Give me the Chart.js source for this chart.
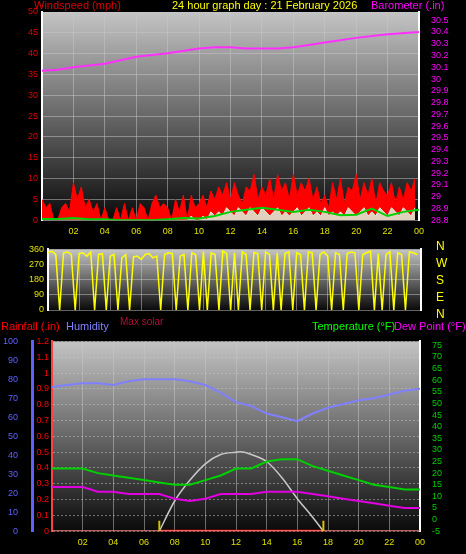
<!DOCTYPE html>
<html><head><meta charset="utf-8">
<script src="https://cdn.jsdelivr.net/npm/chart.js@4/dist/chart.umd.min.js"></script>
<style>
body{margin:0;background:#000;width:466px;height:554px;overflow:hidden;position:relative;font-family:"Liberation Sans",Arial,sans-serif}
canvas{position:absolute;left:0}
.t{position:absolute;font-size:11px;white-space:nowrap;line-height:11px}
</style></head><body>
<canvas id="c1" style="top:0" width="466" height="245"></canvas>
<canvas id="c2" style="top:240px" width="466" height="80"></canvas>
<canvas id="c3" style="top:330px" width="466" height="224"></canvas>
<div class="t" style="left:34px;top:0;color:#e00000">Windspeed (mph)</div>
<div class="t" style="left:172px;top:0;color:#ffff00">24 hour graph day : 21 February 2026</div>
<div class="t" style="left:371px;top:0;color:#ff00ff">Barometer (.in)</div>
<div class="t" style="left:436px;top:238px;color:#ffff00;line-height:17px;font-size:12px">N<br>W<br>S<br>E<br>N</div>
<div class="t" style="left:120px;top:316px;color:#b0103a;font-size:10px">Max solar</div>
<div class="t" style="left:1px;top:321px;color:#ff0000">Rainfall (.in)</div>
<div class="t" style="left:66px;top:321px;color:#8080ff">Humidity</div>
<div class="t" style="left:312px;top:321px;color:#00ff00">Temperature (°F)</div>
<div class="t" style="left:394px;top:321px;color:#ff00ff">Dew Point (°F)</div>
<script>
const hours = [0,1,2,3,4,5,6,7,8,9,10,11,12,13,14,15,16,17,18,19,20,21,22,23,24];
const windGust = [5,3,4,0,0,3,4,2, 9,5,8,3,5,2,4,0, 3,0,0,3,0,4,0,3, 0,4,3,0,4,6,3,4, 3,0,5,2,6,0,6,3, 4,6,3,7,5,8,6,9, 5,9,6,4,8,7,11,5, 8,6,10,5,11,7,9,5, 11,6,9,7,10,5,8,4, 6,3,9,5,10,4,8,7, 11,5,9,6,10,4,9,7, 6,9,4,8,5,9,7,10];
const windSpeed = [0,0,0,0,0,0,0,0, 0,0,0,0,0,0,0,0, 0,0,0,0,0,0,0,0, 0,0,0,0,0,0,0,0, 0,0,0,0,0,0,1,0, 0,1,0,2,1,2,1,3, 2,1,3,2,1,3,2,1, 3,2,1,2,3,1,2,1, 2,3,1,2,3,1,2,1, 3,1,2,1,2,1,3,2, 1,2,3,1,2,1,3,2, 1,3,2,1,3,2,1,3];
const windAvg = [0.3,0.3,0.5,0.2,0.2,0,0,0,0.2,0.5,0.4,1,2,2.5,3,2.5,2,2.5,2,1.2,1.3,2.8,1,2,2.5];
const windDir = [340,350,330,0,340,345,330,0,335,340,320,345,0,330,335,0,320,330,0,310,330,0,315,320, 300,330,335,310,320,0,330,340,335,0,320,330,0,340,330,0,345,0,340,330,0,350,335,0, 340,0,345,330,0,340,335,0,345,330,0,340,0,335,345,0,340,330,0,345,340,0,330,345, 320,0,340,330,0,335,345,340,0,330,340,350,0,335,0,330,345,0,340,330,0,345,340,330];
const baroHours = [0,1,2,4,6,8,10,11,12,13,14,15,16,17,18,20,22,24];
const baro = [30.07,30.08,30.1,30.13,30.19,30.22,30.26,30.27,30.27,30.26,30.26,30.26,30.27,30.29,30.31,30.35,30.38,30.4];
const humidity = [76,77,78,78,77,79,80,80,80,79,77,73,68,66,62,60,58,62,65,67,69,70,72,74,75];
const temperature = [22,22,22,20,19,18,17,16,15,15,17,19,22,22,25,26,26,23,21,19,17,15,14,13,13];
const dewPoint = [14,14,14,12,12,11,11,11,9,8,9,11,11,11,12,12,12,11,10,9,8,7,6,5,5];
const solarHours = [7,8,9,10,11,12,12.3,13,14,15,16,17,17.7];
const solar = [-5,8,17,24,28,29,29.2,28,25,18,9,1,-5];
const sunMarks = [7,17.7];

const q = a => a.map((v,i)=>({x:i*0.25,y:v}));
const hx = (h,a) => a.map((v,i)=>({x:h[i],y:v}));
const grid = {color:'rgba(200,200,200,0.5)',borderDash:[2,2],drawTicks:false};
const F = {family:'"Liberation Sans",Arial,sans-serif',size:9};
const bgPlugin = {id:'bg',beforeDraw(c){const a=c.chartArea,x=c.ctx;const g=x.createLinearGradient(0,a.top,0,a.bottom);g.addColorStop(0,'#c4c4c4');g.addColorStop(1,'#0a0a0a');x.save();x.fillStyle=g;x.fillRect(a.left,a.top,a.right-a.left,a.bottom-a.top);x.restore();}};
function fixW(w){return s=>{s.width=w;};}
function stepTicks(step){return s=>{const t=[];for(let v=Math.ceil(s.min/step-1e-6)*step;v<=s.max+1e-6;v+=step)t.push({value:Math.round(v*100)/100});s.ticks=t;};}
function xAxis(show){return {type:'linear',min:0,max:24,grid:grid,border:{display:false},afterBuildTicks:stepTicks(2),
  ticks:{display:show,autoSkip:false,color:'#e0e000',font:F,padding:6,callback:v=>v===0?'':String(v%24).padStart(2,'0')}};}
const common = {responsive:false,animation:false,plugins:{legend:{display:false},tooltip:{enabled:false}},elements:{point:{radius:0}}};

new Chart(document.getElementById('c1'),{type:'line',plugins:[bgPlugin],
 data:{datasets:[
  {data:hx(baroHours,baro),yAxisID:'yb',borderColor:'#ff30ff',borderWidth:2},
  {data:hx(hours,windAvg),yAxisID:'y',borderColor:'#00d000',borderWidth:2,order:0},
  {data:q(windSpeed),yAxisID:'y',borderColor:'#d8f0d8',backgroundColor:'rgba(220,245,220,0.85)',borderWidth:1,fill:'origin',order:1},
  {data:q(windGust),yAxisID:'y',borderColor:'#ff0000',backgroundColor:'#ff0000',borderWidth:1,fill:'origin',order:2}]},
 options:{...common,layout:{padding:{top:12,bottom:2}},scales:{
  x:xAxis(true),
  y:{min:0,max:50,position:'left',afterFit:fixW(42),afterBuildTicks:stepTicks(5),grid:grid,border:{color:'#fff',width:2},ticks:{autoSkip:false,color:'#e00000',font:F,padding:4}},
  yb:{min:28.8,max:30.57,position:'right',afterFit:fixW(47),afterBuildTicks:stepTicks(0.1),grid:{display:false},border:{color:'#fff',width:2},ticks:{autoSkip:false,color:'#ff00ff',font:F,padding:4,callback:v=>Math.round(v*10)/10}}}}});

new Chart(document.getElementById('c2'),{type:'line',plugins:[bgPlugin],
 data:{datasets:[{data:q(windDir),borderColor:'#ffff00',borderWidth:1.5}]},
 options:{...common,layout:{padding:{top:5,bottom:10}},scales:{
  x:{...xAxis(false),ticks:{display:false}},
  y:{min:0,max:360,afterFit:fixW(48),afterBuildTicks:stepTicks(90),grid:grid,border:{color:'#fff',width:2},ticks:{autoSkip:false,color:'#e0e000',font:F,padding:4}},
  yr:{position:'right',afterFit:fixW(45),grid:{display:false},border:{color:'#fff',width:2},ticks:{display:false}}}}});

new Chart(document.getElementById('c3'),{type:'line',plugins:[bgPlugin,{id:'sun',afterDatasetsDraw(c){const x=c.ctx,sx=c.scales.x,a=c.chartArea,yt=c.scales.yt;x.save();x.strokeStyle='#d8c000';x.lineWidth=2;sunMarks.forEach(h=>{const p=sx.getPixelForValue(h);x.beginPath();x.moveTo(p,a.bottom);x.lineTo(p,yt.getPixelForValue(-0.5));x.stroke();});x.restore();}}],
 data:{datasets:[
  {data:hx(hours,humidity),yAxisID:'yh',borderColor:'#8080ff',borderWidth:2},
  {data:hx(hours,temperature),yAxisID:'yt',borderColor:'#00d000',borderWidth:2},
  {data:hx(hours,dewPoint),yAxisID:'yt',borderColor:'#e000e0',borderWidth:2},
  {data:hx(solarHours,solar),yAxisID:'yt',borderColor:'#c8c8c8',borderWidth:1.5,cubicInterpolationMode:'monotone'},
  {data:[{x:0,y:0},{x:24,y:0}],yAxisID:'yr',borderColor:'#f08080',borderWidth:2},
  {data:hx(sunMarks,[0,0]),yAxisID:'yr',borderColor:'#ff0000',borderWidth:3}]},
 options:{...common,layout:{padding:{top:10,bottom:0}},scales:{
  x:xAxis(true),
  yr:{min:0,max:1.2,position:'left',afterFit:fixW(20),afterBuildTicks:stepTicks(0.1),grid:grid,border:{color:'#ff4040',width:2,dash:[2,2]},ticks:{autoSkip:false,color:'#ff0000',font:F,padding:3,callback:v=>Math.round(v*10)/10}},
  yh:{min:0,max:100,position:'left',afterFit:fixW(32),afterBuildTicks:stepTicks(10),grid:{display:false},border:{color:'#6060ff',width:3},ticks:{autoSkip:false,color:'#6060ff',font:F,padding:6}},
  yt:{min:-5,max:76.7,position:'right',afterFit:fixW(46),afterBuildTicks:stepTicks(5),grid:{display:false},border:{color:'#fff',width:2},ticks:{autoSkip:false,color:'#00d000',font:F,padding:4}}}}});
</script></body></html>
